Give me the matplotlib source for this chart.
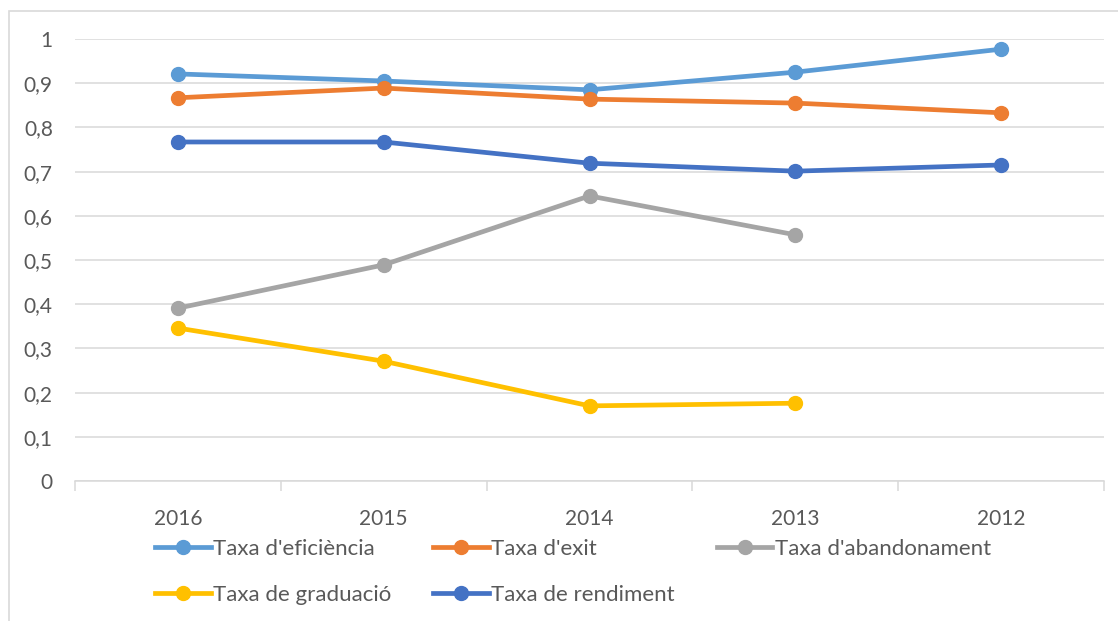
import matplotlib
matplotlib.use("Agg")
import matplotlib.pyplot as plt
from matplotlib.lines import Line2D
from matplotlib.patches import Rectangle
import numpy as np

plt.rcParams['font.family'] = ['Lato', 'DejaVu Sans']

years = ["2016", "2015", "2014", "2013", "2012"]
eficiencia = [0.921, 0.905, 0.885, 0.925, 0.977]
exit_ = [0.867, 0.889, 0.864, 0.855, 0.833]
abandonament = [0.391, 0.489, 0.645, 0.557]
graduacio = [0.346, 0.271, 0.170, 0.176]
rendiment = [0.767, 0.767, 0.719, 0.701, 0.715]
ytick_labels = ["0", "0,1", "0,2", "0,3", "0,4", "0,5", "0,6", "0,7", "0,8", "0,9", "1"]

series = [
    ("Taxa d'eficiència", eficiencia, "#5B9BD5"),
    ("Taxa d'exit", exit_, "#ED7D31"),
    ("Taxa d'abandonament", abandonament, "#A5A5A5"),
    ("Taxa de graduació", graduacio, "#FFC000"),
    ("Taxa de rendiment", rendiment, "#4472C4"),
]

W, H = 1118, 621
fig = plt.figure(figsize=(W / 100, H / 100), dpi=100)
# outer frame (partially cut off)
fig.patches.append(Rectangle((9 / W, -0.1), 1.2, (H - 11) / H + 0.1, transform=fig.transFigure,
                             fill=False, edgecolor="#D9D9D9", linewidth=1.2))

ax = fig.add_axes([75 / W, (H - 481) / H, (1104 - 75) / W, (481 - 39) / H])
x = np.arange(len(years))
for name, vals, col in series:
    ax.plot(x[:len(vals)], vals, color=col, linewidth=3.4, marker="o", markersize=10,
            solid_capstyle="round", label=name, zorder=3)

ax.set_xlim(-0.5, len(years) - 0.5)
ax.set_ylim(0, 1)
ax.set_yticks(np.arange(0, 1.01, 0.1))
ax.set_yticklabels(ytick_labels)
ax.yaxis.grid(True, color="#D9D9D9", linewidth=1.1)
ax.set_axisbelow(True)
for s in ["top", "right", "left"]:
    ax.spines[s].set_visible(False)
ax.spines["bottom"].set_color("#D9D9D9")
ax.spines["bottom"].set_linewidth(1.1)
ax.tick_params(axis="y", length=0, pad=16, labelsize=15, labelcolor="#595959")
ax.set_xticks(x)
ax.set_xticklabels(years)
ax.tick_params(axis="x", length=0, pad=20, labelsize=15, labelcolor="#595959")
ax.set_xticks(np.arange(-0.5, len(years)), minor=True)
ax.tick_params(axis="x", which="minor", length=7, color="#D9D9D9", width=1.1, direction="out")

handles = {}
for name, vals, col in series:
    handles[name] = Line2D([], [], color=col, linewidth=3.4, marker="o", markersize=10)
order = ["Taxa d'eficiència", "Taxa de graduació", "Taxa d'exit", "Taxa de rendiment", "Taxa d'abandonament"]
leg = fig.legend([handles[n] for n in order], order, ncol=3, loc="upper left",
                 bbox_to_anchor=(155 / W, 1 - 539 / H), frameon=False, fontsize=16,
                 handlelength=2.5, handletextpad=0.1, columnspacing=1.9, labelspacing=1.15,
                 borderpad=0, borderaxespad=0)
for t in leg.get_texts():
    t.set_color("#595959")

fig.savefig("out.png", dpi=100)
